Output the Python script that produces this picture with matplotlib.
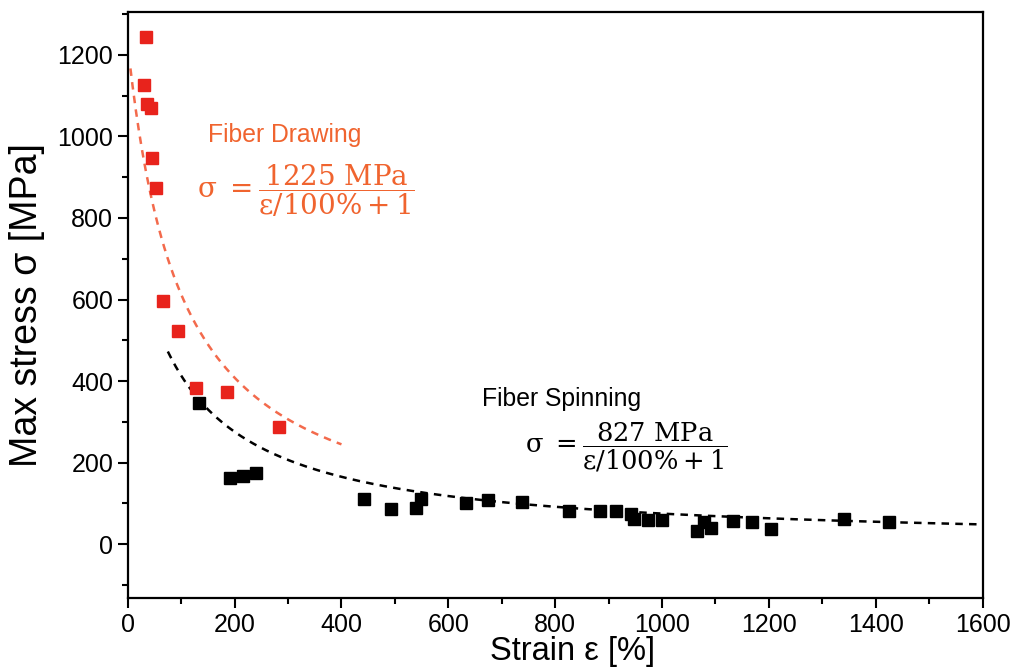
import numpy as np
import matplotlib
matplotlib.use("Agg")
import matplotlib.pyplot as plt
from matplotlib.ticker import MultipleLocator

plt.rcParams['font.family'] = ['Liberation Sans', 'DejaVu Sans']
plt.rcParams['mathtext.fontset'] = 'custom'
plt.rcParams['mathtext.rm'] = 'DejaVu Serif'
plt.rcParams['mathtext.it'] = 'DejaVu Serif'
plt.rcParams['mathtext.default'] = 'rm'

# fiber drawing (red)
draw_strain = [34, 30, 36, 43, 45, 52, 66, 94, 127, 185, 283]
draw_stress = [1244, 1126, 1080, 1070, 947, 874, 596, 523, 383, 373, 287]

# fiber spinning (black)
spin_strain = [133, 191, 215, 240, 442, 492, 539, 549, 633, 674, 738, 826, 884,
               914, 942, 948, 974, 1000, 1066, 1079, 1092, 1133, 1169, 1204, 1341, 1425]
spin_stress = [346, 162, 167, 174, 110, 86, 88, 110, 101, 108, 103, 81, 81,
               81, 74, 61, 59, 59, 32, 54, 39, 56, 54, 37, 61, 54]

draw_coef = 1225
spin_coef = 827

red_pt = '#E8231C'
red_ln = '#F36A4C'
red_txt = '#F0642F'

fig = plt.figure(figsize=(10.14, 6.69), dpi=100)
ax = fig.add_axes([0.126, 0.106, 0.843, 0.876])

e1 = np.linspace(5, 400, 200)
ax.plot(e1, draw_coef / (e1 / 100 + 1), color=red_ln, lw=1.8, ls=(0, (3, 2.5)))
e2 = np.linspace(75, 1600, 400)
ax.plot(e2, spin_coef / (e2 / 100 + 1), color='black', lw=1.8, ls=(0, (3, 2.5)))

ax.plot(draw_strain, draw_stress, 's', color=red_pt, ms=8.5, mec=red_pt)
ax.plot(spin_strain, spin_stress, 's', color='black', ms=8.5)

ax.text(150, 1003, 'Fiber Drawing', color=red_txt, fontsize=17.8, va='center')
ax.text(129, 868, r'$\sigma\ =\dfrac{1225\ \mathrm{MPa}}{\varepsilon/100\%+1}$',
        color=red_txt, fontsize=20, va='center')
ax.text(663, 355, 'Fiber Spinning', color='black', fontsize=17.8, va='center')
ax.text(743, 237, r'$\sigma\ =\dfrac{827\ \mathrm{MPa}}{\varepsilon/100\%+1}$',
        color='black', fontsize=18.5, va='center')

ax.set_xlim(0, 1600)
ax.set_ylim(-132, 1305)
ax.xaxis.set_major_locator(MultipleLocator(200))
ax.xaxis.set_minor_locator(MultipleLocator(100))
ax.yaxis.set_major_locator(MultipleLocator(200))
ax.yaxis.set_minor_locator(MultipleLocator(100))
ax.tick_params(which='both', direction='out', width=1.5, labelsize=18)
ax.tick_params(which='major', length=7)
ax.tick_params(which='minor', length=4)
for s in ax.spines.values():
    s.set_linewidth(1.6)

ax.set_xlabel('Strain ε [%]', fontsize=23.5)
ax.set_ylabel('Max stress σ [MPa]', fontsize=27)
ax.xaxis.set_label_coords(0.52, -0.065)
ax.yaxis.set_label_coords(-0.097, 0.5)

fig.savefig('out.png', dpi=100)
